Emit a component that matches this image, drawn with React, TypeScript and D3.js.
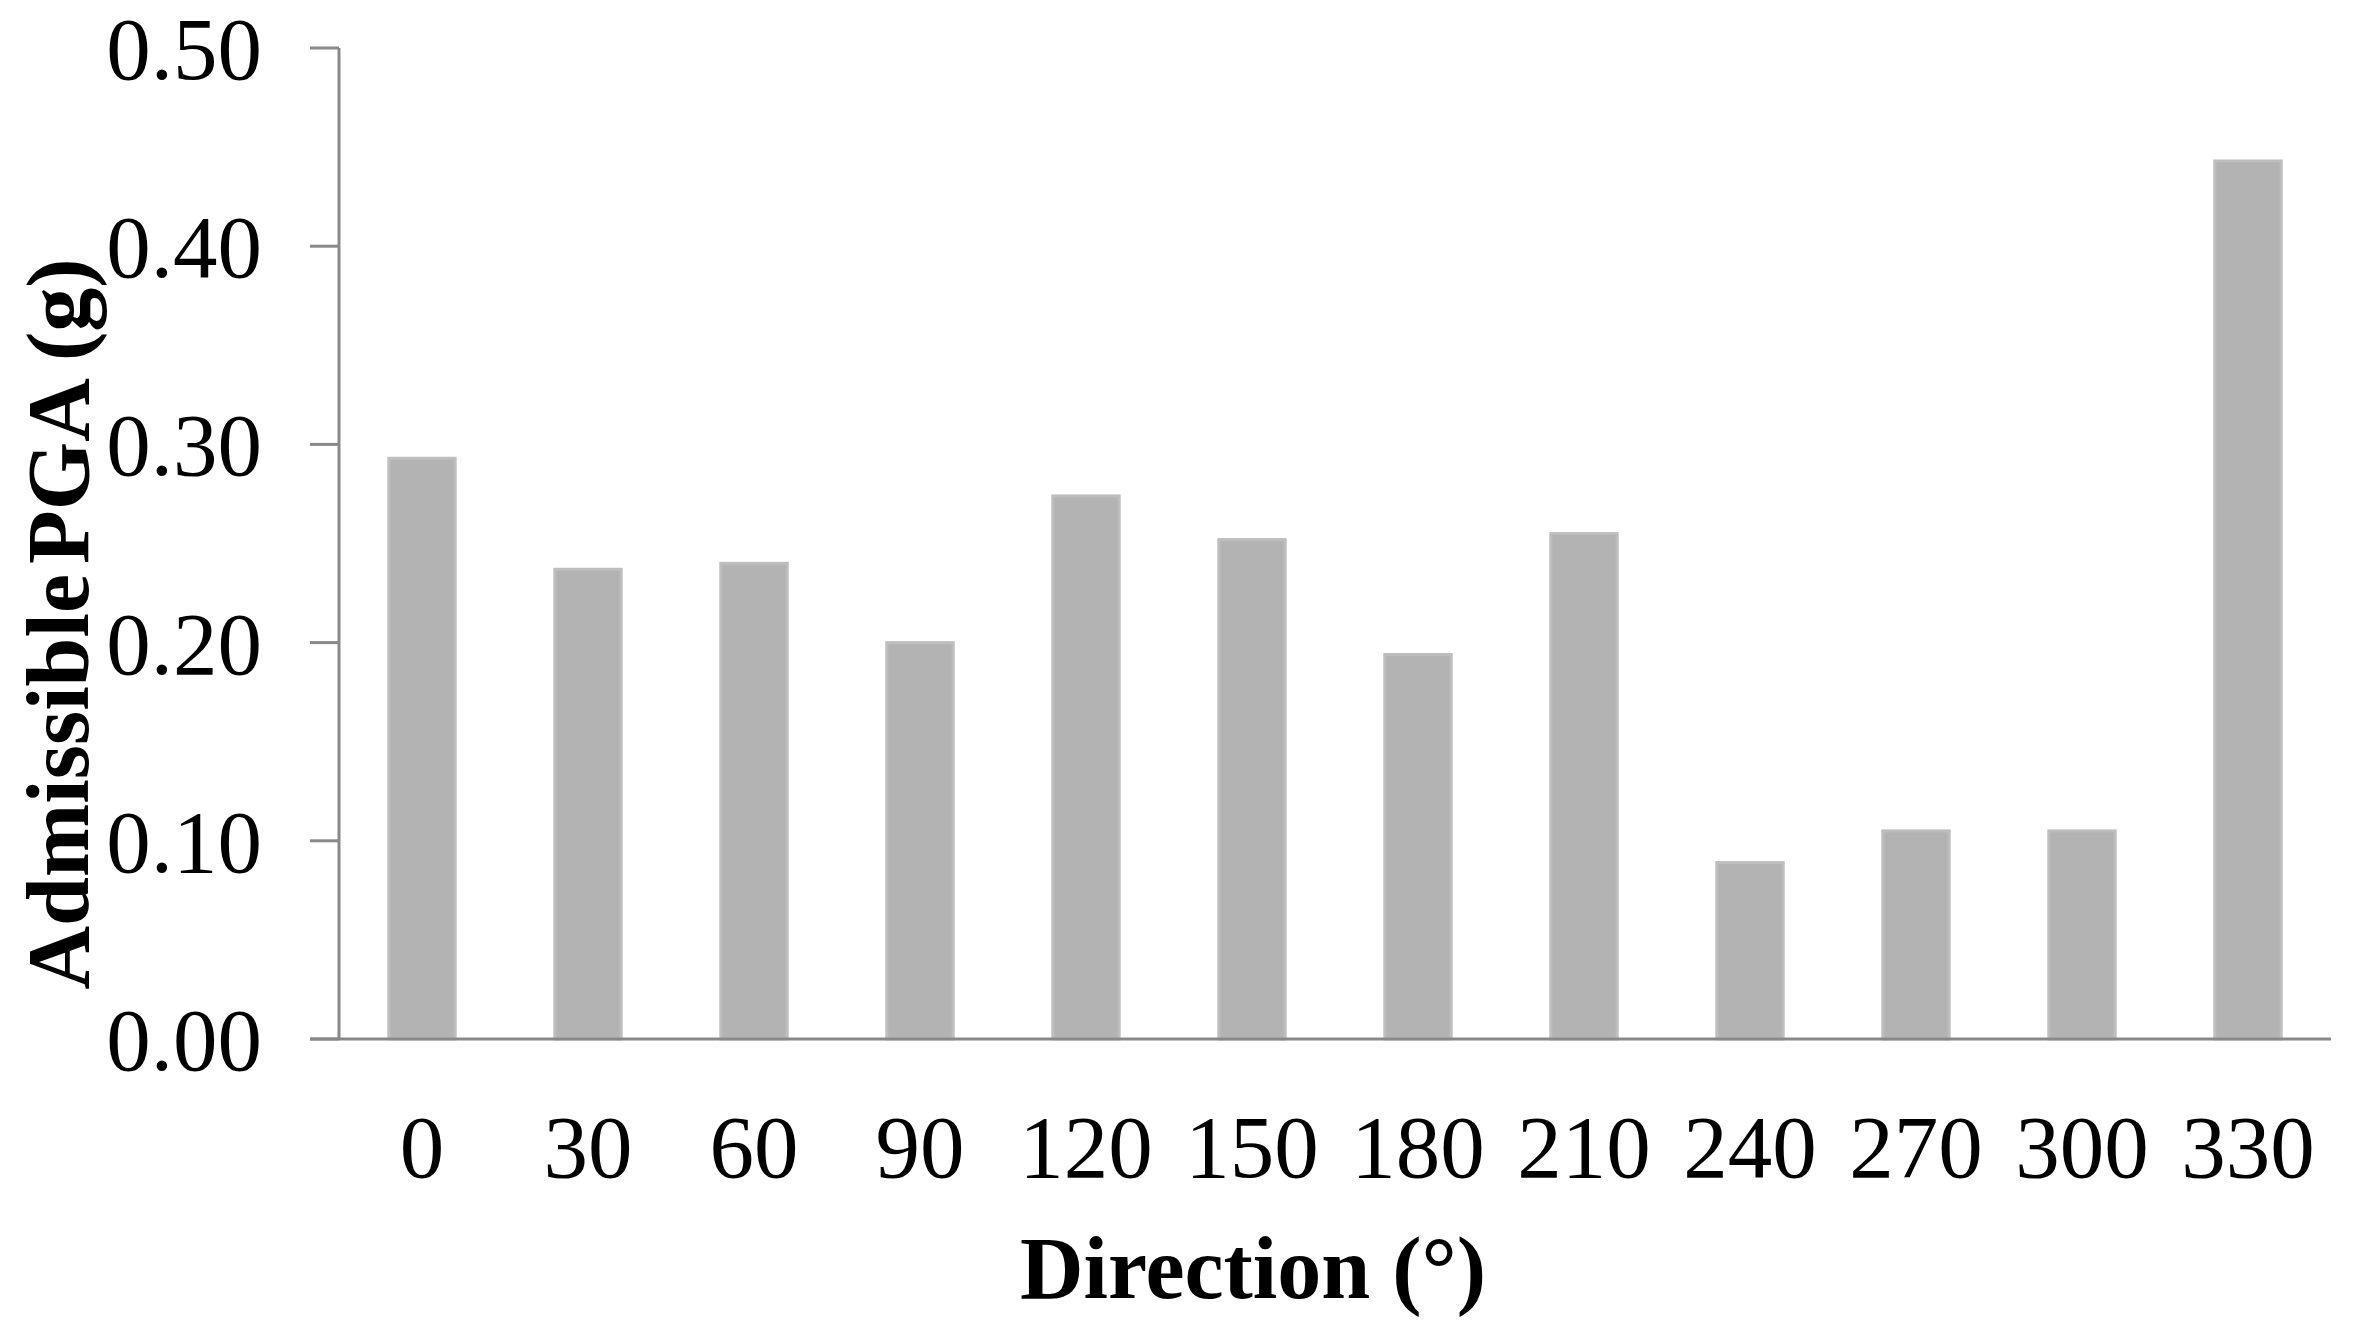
import React from 'react'
import * as d3 from 'd3'

const directions = ['0', '30', '60', '90', '120', '150', '180', '210', '240', '270', '300', '330']
const pga = [0.293, 0.237, 0.240, 0.200, 0.274, 0.252, 0.194, 0.255, 0.089, 0.105, 0.105, 0.443]
const yTicks = [0, 0.1, 0.2, 0.3, 0.4, 0.5]

const width = 2354
const height = 1331
const left = 339
const right = 2331
const top = 48
const bottom = 1039

const axisColor = '#898989'
const font = '"Liberation Serif", "Times New Roman", serif'

export default function App() {
    const x = d3
        .scaleBand()
        .domain(directions)
        .range([left, right])
        .paddingInner(0.6)
        .paddingOuter(0.3)

    const y = d3
        .scaleLinear()
        .domain([0, 0.5])
        .range([bottom, top])

    const fmt = d3.format('.2f')

    return (
        <>
            <style>{'body{margin:0}'}</style>
            <svg width={width} height={height} style={{ display: 'block', background: '#fff' }}>
                {/* bars */}
                {pga.map((v, i) => (
                    <rect
                        key={directions[i]}
                        x={x(directions[i])}
                        y={y(v)}
                        width={x.bandwidth()}
                        height={y(0) - y(v)}
                        fill="#b3b3b3"
                        stroke="#bebebe"
                        strokeWidth={3}
                    />
                ))}

                {/* y axis */}
                <line x1={left} x2={left} y1={top} y2={bottom} stroke={axisColor} strokeWidth={3} />
                {yTicks.map((t) => (
                    <g key={t}>
                        <line x1={left - 29} x2={left} y1={y(t)} y2={y(t)} stroke={axisColor} strokeWidth={3} />
                        <text
                            x={262}
                            y={y(t) + 31}
                            textAnchor="end"
                            fontFamily={font}
                            fontSize={89}
                            fill="#000"
                        >
                            {fmt(t)}
                        </text>
                    </g>
                ))}

                {/* x axis */}
                <line x1={left - 29} x2={right} y1={bottom} y2={bottom} stroke={axisColor} strokeWidth={3} />
                {directions.map((d) => (
                    <text
                        key={d}
                        x={(x(d) as number) + x.bandwidth() / 2}
                        y={1177}
                        textAnchor="middle"
                        fontFamily={font}
                        fontSize={89}
                        fill="#000"
                    >
                        {d}
                    </text>
                ))}

                {/* titles */}
                <text
                    x={1253}
                    y={1298}
                    textAnchor="middle"
                    fontFamily={font}
                    fontWeight="bold"
                    fontSize={88}
                    fill="#000"
                >
                    Direction (°)
                </text>
                <text
                    transform="translate(88, 624) rotate(-90)"
                    textAnchor="middle"
                    fontFamily={font}
                    fontWeight="bold"
                    fontSize={88}
                    fill="#000"
                >
                    <tspan>Admissible</tspan>
                    <tspan dx={-12}> PGA (g)</tspan>
                </text>
            </svg>
        </>
    )
}
